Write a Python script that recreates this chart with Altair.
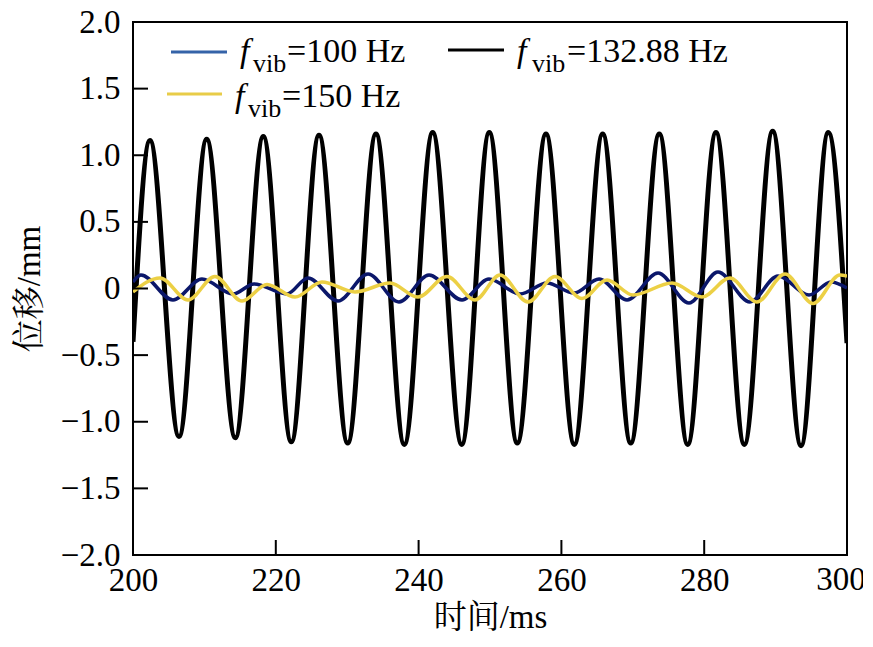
import altair as alt
import pandas as pd

# ---- data ----
black_t = [200.0, 202.38, 206.44, 210.32, 214.33, 218.25, 222.17, 226.05, 230.07, 234.03,
           238.00, 241.97, 246.04, 249.90, 253.82, 257.84, 261.81, 265.78, 269.71, 273.71,
           277.69, 281.65, 285.62, 289.59, 293.56, 297.38, 300.0]
black_v = [-0.40, 1.11, -1.11, 1.12, -1.12, 1.14, -1.15, 1.15, -1.16, 1.16,
           -1.17, 1.17, -1.17, 1.17, -1.16, 1.16, -1.17, 1.16, -1.16, 1.16,
           -1.17, 1.17, -1.17, 1.18, -1.18, 1.17, -0.41]

blue_t = [200.0, 201.12, 205.60, 209.66, 214.01, 216.95, 221.57, 224.51, 228.71, 232.91,
          237.25, 241.46, 246.08, 249.86, 254.20, 257.98, 261.76, 265.27, 269.19, 273.53,
          277.87, 281.93, 286.41, 290.34, 294.68, 297.76, 300.0]
blue_v = [0.049, 0.101, -0.086, 0.071, -0.041, 0.034, -0.041, 0.079, -0.094, 0.109,
          -0.101, 0.101, -0.086, 0.071, -0.041, 0.041, -0.034, 0.071, -0.086, 0.116,
          -0.109, 0.124, -0.101, 0.094, -0.049, 0.049, 0.004]

yellow_t = [200.0, 203.78, 207.70, 211.48, 215.27, 218.77, 222.69, 226.47, 231.09, 235.99,
            239.92, 243.98, 247.90, 251.40, 255.32, 259.10, 262.89, 266.39, 270.03, 275.49,
            279.69, 283.61, 287.39, 291.32, 295.24, 299.02, 300.0]
yellow_v = [-0.026, 0.079, -0.086, 0.090, -0.094, 0.030, -0.064, 0.049, -0.026, 0.041,
            -0.064, 0.090, -0.086, 0.101, -0.101, 0.090, -0.075, 0.064, -0.049, 0.041,
            -0.064, 0.079, -0.101, 0.109, -0.113, 0.101, 0.094]

x_ticks = [200, 220, 240, 260, 280, 300]
y_ticks = [-2.0, -1.5, -1.0, -0.5, 0.0, 0.5, 1.0, 1.5, 2.0]

series_names = ["132.88 Hz", "100 Hz", "150 Hz"]

rows = []
for name, ts, vs in [(series_names[0], black_t, black_v),
                     (series_names[1], blue_t, blue_v),
                     (series_names[2], yellow_t, yellow_v)]:
    for t, v in zip(ts, vs):
        rows.append({"series": name, "t": t, "v": v})
df = pd.DataFrame(rows)

SERIF = "Liberation Serif, Times New Roman, Noto Serif CJK SC, Noto Sans CJK SC"
FS = 33
LAST_X = x_ticks[-1]

xs = alt.Scale(domain=[200, 300], nice=False, zero=False)
ys = alt.Scale(domain=[-2, 2], nice=False, zero=False)

x_axis = alt.Axis(values=x_ticks, tickSize=0, domain=False, grid=False, labelFlush=False,
                  labelFont=SERIF, labelFontSize=FS, labelColor="black", labelPadding=9,
                  labelExpr=f"datum.value == {LAST_X} ? '' : datum.label",
                  title="时间/ms", titleFont=SERIF, titleFontSize=FS, titleFontWeight="normal",
                  titleColor="black", titlePadding=4)
y_axis = alt.Axis(values=y_ticks, tickSize=0, domain=False, grid=False, labelFlush=False,
                  labelFont=SERIF, labelFontSize=FS, labelColor="black", labelPadding=13,
                  labelExpr="datum.value == 0 ? '0' : format(datum.value, '.1f')",
                  title="位移/mm", titleFont=SERIF, titleFontSize=FS, titleFontWeight="normal",
                  titleColor="black", titlePadding=14)


def line(name, color, width):
    return alt.Chart(df).transform_filter(alt.datum.series == name).mark_line(
        interpolate="monotone", color=color, strokeWidth=width, clip=True
    ).encode(
        x=alt.X("t:Q", scale=xs, axis=x_axis),
        y=alt.Y("v:Q", scale=ys, axis=y_axis),
        order="t:Q",
    )


black = line(series_names[0], "#000000", 5)
blue = line(series_names[1], "#0b176a", 3.5)
yellow = line(series_names[2], "#ecd045", 3.5)

# inward ticks
ytick_df = pd.DataFrame({"v": y_ticks})
xtick_df = pd.DataFrame({"t": x_ticks})
yticks = alt.Chart(ytick_df).mark_rule(color="black", strokeWidth=2).encode(
    y=alt.Y("v:Q", scale=ys, axis=y_axis), x=alt.value(0), x2=alt.value(15))
xticks = alt.Chart(xtick_df).mark_rule(color="black", strokeWidth=2).encode(
    x=alt.X("t:Q", scale=xs, axis=x_axis), y=alt.value(533), y2=alt.value(518))

# last x label, nudged left so it stays inside the page
last_lab = alt.Chart(pd.DataFrame({"t": [LAST_X], "lab": [str(LAST_X)]})).mark_text(
    font=SERIF, fontSize=FS, align="center", baseline="top", color="black", dx=-6
).encode(x=alt.X("t:Q", scale=xs, axis=x_axis), y=alt.value(542), text="lab:N")

# manual legend
one = pd.DataFrame({"a": [0]})


def leg_line(x1, x2, y, color):
    return alt.Chart(one).mark_rule(color=color, strokeWidth=3).encode(
        x=alt.value(x1), x2=alt.value(x2), y=alt.value(y))


def leg_text(txt, x, y, size=34, italic=False):
    return alt.Chart(one).mark_text(text=txt, font=SERIF, fontSize=size, align="left",
                                    baseline="alphabetic", color="black",
                                    fontStyle="italic" if italic else "normal").encode(
        x=alt.value(x), y=alt.value(y))


legend = [
    leg_line(38, 94, 30, "#3563a8"),
    leg_text("f", 107, 40, italic=True), leg_text("vib", 120, 50, size=26),
    leg_text("=" + series_names[1], 154, 40),
    leg_line(34, 89, 72, "#e8cc48"),
    leg_text("f", 102, 85, italic=True), leg_text("vib", 115, 95, size=26),
    leg_text("=" + series_names[2], 149, 85),
    leg_line(315, 371, 28, "#000000"),
    leg_text("f", 384, 40, italic=True), leg_text("vib", 399, 50, size=26),
    leg_text("=" + series_names[0], 434, 40),
]

chart = alt.layer(black, blue, yellow, yticks, xticks, last_lab, *legend).properties(
    width=714, height=533,
    autosize=alt.AutoSizeParams(type="none"),
    padding={"left": 125, "top": 14, "right": 16, "bottom": 80},
    background="white",
).configure_view(stroke="black", strokeWidth=2)

chart.save("out.html", embed_options={"renderer": "svg", "actions": False})
